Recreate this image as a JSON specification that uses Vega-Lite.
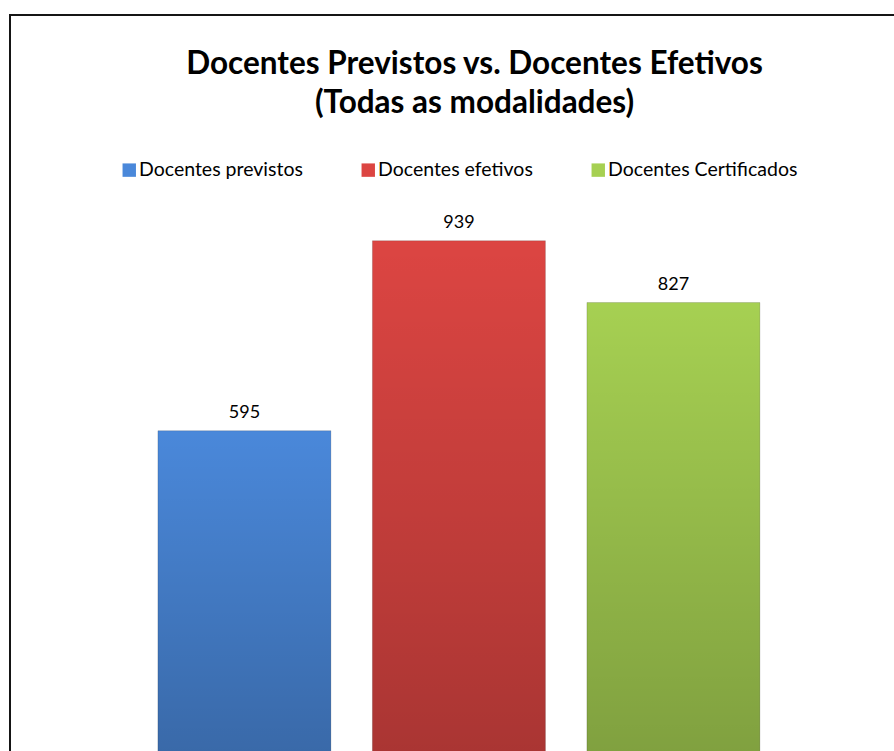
{
  "$schema": "https://vega.github.io/schema/vega-lite/v6.json",
  "autosize": {"type": "none"},
  "padding": {"left": 10, "top": 15, "right": 0, "bottom": 0},
  "width": 887,
  "height": 739,
  "background": "white",
  "config": {
    "view": {"stroke": "#151515", "strokeWidth": 2},
    "font": "Lato"
  },
  "title": {
    "text": ["Docentes Previstos vs. Docentes Efetivos", "(Todas as modalidades)"],
    "anchor": "middle",
    "orient": "top",
    "baseline": "alphabetic",
    "offset": -58,
    "dy": 71,
    "dx": 21,
    "font": "Lato",
    "fontSize": 31.5,
    "fontWeight": "bold",
    "color": "#000000",
    "lineHeight": 38.5
  },
  "data": {
    "values": [
      {"serie": "Docentes previstos", "valor": 595},
      {"serie": "Docentes efetivos", "valor": 939},
      {"serie": "Docentes Certificados", "valor": 827}
    ]
  },
  "encoding": {
    "x": {
      "field": "serie",
      "type": "nominal",
      "sort": null,
      "axis": null,
      "scale": {"paddingInner": 0.1935, "paddingOuter": 0.6643, "align": 0.519}
    },
    "y": {
      "field": "valor",
      "type": "quantitative",
      "axis": null,
      "scale": {"domain": [9.6, 1347.6], "nice": false, "zero": false}
    }
  },
  "layer": [
    {
      "mark": {"type": "bar", "clip": true},
      "encoding": {
        "color": {
          "field": "serie",
          "type": "nominal",
          "sort": null,
          "scale": {
            "domain": ["Docentes previstos", "Docentes efetivos", "Docentes Certificados"],
            "range": ["#4a88da", "#dc4542", "#a6d052"]
          },
          "legend": {
            "title": null,
            "orient": "none",
            "direction": "horizontal",
            "legendX": 109.5,
            "legendY": 145,
            "symbolType": "square",
            "symbolSize": 180,
            "symbolStrokeWidth": 0,
            "labelFont": "Lato",
            "labelFontSize": 19.5,
            "labelColor": "#000000",
            "labelLimit": 400,
            "columnPadding": 55,
            "labelOffset": 0
          }
        }
      }
    },
    {
      "mark": {
        "type": "bar",
        "clip": true,
        "fill": {
          "gradient": "linear",
          "x1": 0, "y1": 0, "x2": 0, "y2": 1,
          "stops": [
            {"offset": 0, "color": "rgba(0,0,0,0)"},
            {"offset": 1, "color": "rgba(0,0,0,0.23)"}
          ]
        },
        "stroke": "rgba(0,0,0,0.15)",
        "strokeWidth": 1
      }
    },
    {
      "mark": {"type": "text", "dy": -13, "baseline": "alphabetic", "font": "Lato", "fontSize": 18, "color": "#000000"},
      "encoding": {"text": {"field": "valor", "type": "quantitative"}}
    }
  ]
}
